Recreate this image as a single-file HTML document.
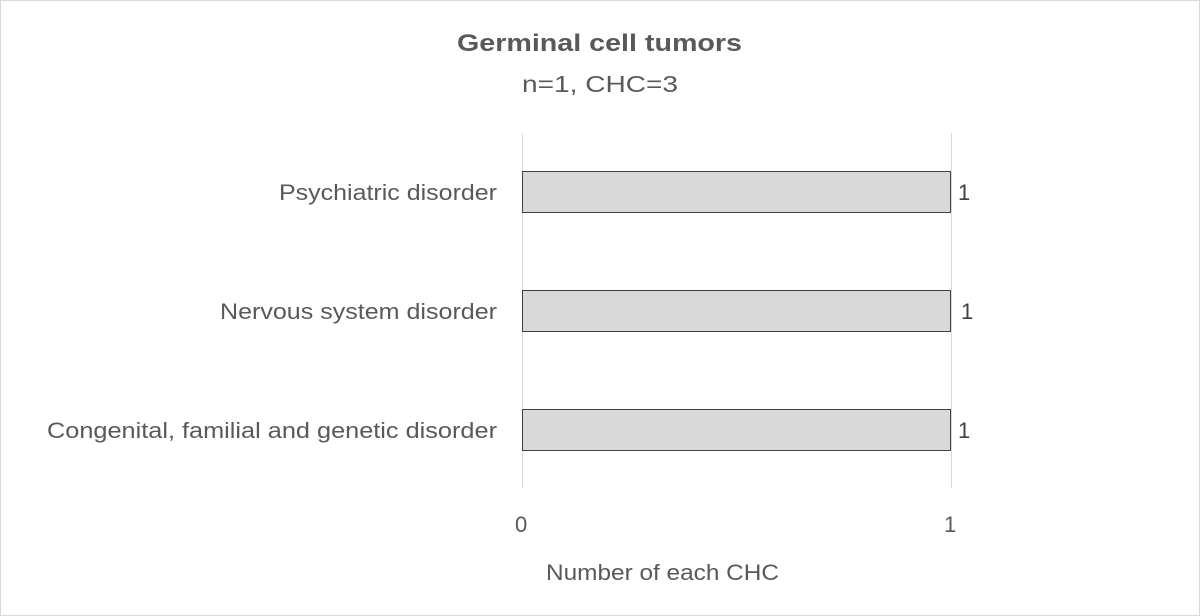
<!DOCTYPE html>
<html><head><style>
body{margin:0;background:#fff;}
svg{display:block}
text{font-family:"Liberation Sans",sans-serif;fill:#595959}
</style></head><body>
<svg width="1200" height="616" viewBox="0 0 1200 616">
<rect x="0.5" y="0.5" width="1199" height="615" fill="#fff" stroke="#d9d9d9"/>
<text x="457" y="51" font-size="24" font-weight="bold" textLength="285" lengthAdjust="spacingAndGlyphs">Germinal cell tumors</text>
<text x="522" y="92" font-size="23" textLength="156" lengthAdjust="spacingAndGlyphs">n=1, CHC=3</text>
<line x1="522.5" y1="133" x2="522.5" y2="488" stroke="#d9d9d9"/>
<line x1="951.5" y1="133" x2="951.5" y2="488" stroke="#d9d9d9"/>
<rect x="522.5" y="171.5" width="428" height="41" fill="#d9d9d9" stroke="#404040"/>
<rect x="522.5" y="290.5" width="428" height="41" fill="#d9d9d9" stroke="#404040"/>
<rect x="522.5" y="409.5" width="428" height="41" fill="#d9d9d9" stroke="#404040"/>
<text x="497" y="200" font-size="22" text-anchor="end" textLength="218" lengthAdjust="spacingAndGlyphs">Psychiatric disorder</text>
<text x="497" y="319" font-size="22" text-anchor="end" textLength="277" lengthAdjust="spacingAndGlyphs">Nervous system disorder</text>
<text x="497" y="438" font-size="22" text-anchor="end" textLength="450" lengthAdjust="spacingAndGlyphs">Congenital, familial and genetic disorder</text>
<text x="958" y="200" font-size="22" style="fill:#404040">1</text>
<text x="961" y="319" font-size="22" style="fill:#404040">1</text>
<text x="958" y="438" font-size="22" style="fill:#404040">1</text>
<text x="515" y="532" font-size="22">0</text>
<text x="944" y="532" font-size="22">1</text>
<text x="546" y="580" font-size="22" textLength="233" lengthAdjust="spacingAndGlyphs">Number of each CHC</text>
</svg>
</body></html>
